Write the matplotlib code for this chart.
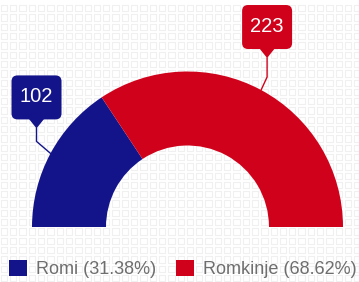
import numpy as np
import matplotlib
matplotlib.use("Agg")
import matplotlib.pyplot as plt
from matplotlib.patches import FancyBboxPatch, Polygon

plt.rcParams['font.family'] = ['Liberation Sans', 'DejaVu Sans']

# data
categories = ["Romi", "Romkinje"]
values = [102, 223]
colors = ["#14148a", "#d0021b"]

W, H = 359, 282
fig = plt.figure(figsize=(W / 100, H / 100), dpi=100)
ax = fig.add_axes([0, 0, 1, 1])

# faint background texture
gx, gy = np.meshgrid(np.arange(4, W, 9.3), np.arange(4, H, 9.3))
ax.scatter(gx.ravel(), gy.ravel(), marker='s', s=20, facecolor='none',
           edgecolor='#f0f0f0', linewidth=0.8, zorder=0)

# half donut: pie with an invisible second half
cx, cy = 187.5, H - 227
r_out, r_in = 155.5, 81.5
total = sum(values)
wedges, _ = ax.pie(values + [total], colors=colors + ['none'], startangle=180,
                   counterclock=False, center=(cx, cy), radius=r_out,
                   wedgeprops=dict(width=r_out - r_in, linewidth=0),
                   frame=True)
wedges[-1].set_visible(False)

# callouts: (elbow dx, elbow dy, stem length)
callouts = [(-14, 12, 13), (6, 13, 19)]
box_w, box_h = 50, 44
for w, val, col, (dx, dy, stem) in zip(wedges[:2], values, colors, callouts):
    mid = np.deg2rad((w.theta1 + w.theta2) / 2)
    axp = cx + r_out * np.cos(mid)
    ayp = cy + r_out * np.sin(mid)
    ex, ey = axp + dx, ayp + dy
    tip_y = ey + stem
    ax.plot([axp, ex, ex], [ayp, ey, tip_y], color=col, lw=1, zorder=3)
    by = tip_y + 9
    box = FancyBboxPatch((ex - box_w / 2, by), box_w, box_h,
                         boxstyle="round,pad=0,rounding_size=6",
                         facecolor=col, edgecolor='none', zorder=4)
    ax.add_patch(box)
    ax.add_patch(Polygon([[ex - 8, by + 1], [ex + 8, by + 1], [ex, tip_y]],
                         closed=True, facecolor=col, edgecolor='none', zorder=4))
    ax.text(ex, by + box_h / 2 + 1, str(val), color='white', fontsize=14.5,
            ha='center', va='center', zorder=5)

ax.set_xlim(0, W)
ax.set_ylim(0, H)
ax.set_aspect('equal')
ax.axis('off')

labels = [f"{c} ({v / total * 100:.2f}%)" for c, v in zip(categories, values)]
ax.legend(wedges[:2], labels, loc='lower center', bbox_to_anchor=(0.51, -0.045),
          ncol=2, frameon=False, fontsize=13, labelcolor='#6e6e6e',
          handlelength=1.0, handleheight=1.0, handletextpad=0.5,
          columnspacing=1.1)

fig.savefig("out.png", dpi=100)
